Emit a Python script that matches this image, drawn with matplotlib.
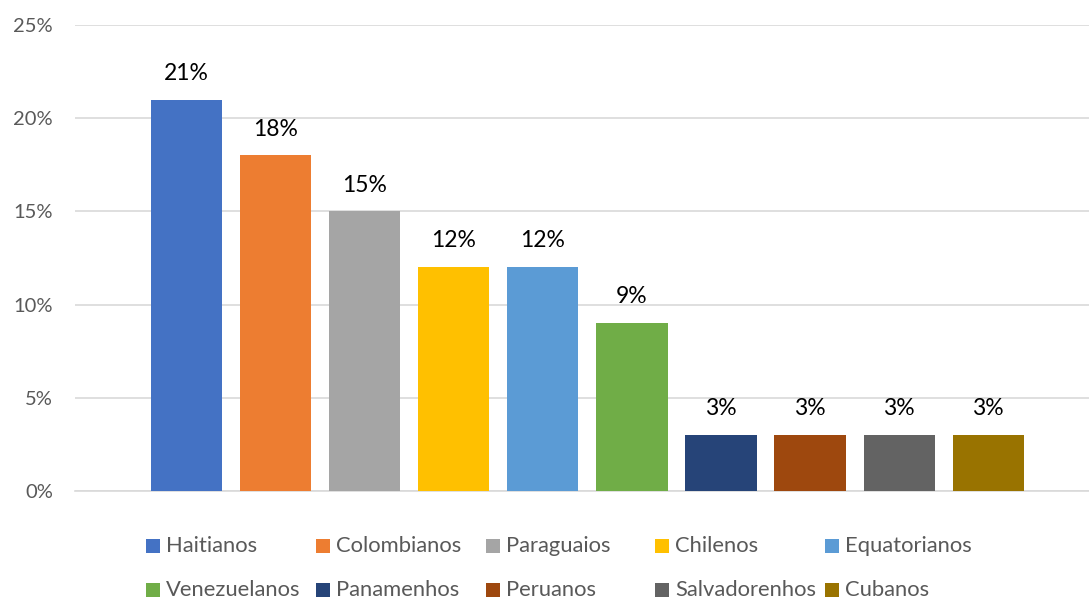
import matplotlib
matplotlib.use("Agg")
import matplotlib.pyplot as plt
from matplotlib.patches import Rectangle

categories = ["Haitianos", "Colombianos", "Paraguaios", "Chilenos", "Equatorianos",
              "Venezuelanos", "Panamenhos", "Peruanos", "Salvadorenhos", "Cubanos"]
values = [21, 18, 15, 12, 12, 9, 3, 3, 3, 3]
colors = ["#4472C4", "#ED7D31", "#A5A5A5", "#FFC000", "#5B9BD5",
          "#70AD47", "#264478", "#9E480E", "#636363", "#997300"]
yticks = [0, 5, 10, 15, 20, 25]

W, H = 1089, 599
fig = plt.figure(figsize=(W / 100, H / 100), dpi=100)
plt.rcParams['font.family'] = ['Lato', 'DejaVu Sans']
ax = fig.add_axes([75 / W, (H - 491) / H, 1 - 75 / W, (491 - 25) / H])

x = list(range(len(categories)))
bars = ax.bar(x, values, width=0.8, color=colors, zorder=3)
for xi, v in zip(x, values):
    ax.annotate(f"{v}%", (xi, v), xytext=(0, 19), textcoords="offset points",
                ha="center", va="center", fontsize=16.5, color="#000000")

ax.set_xlim(-1.25, 10.13)
ax.set_ylim(0, 25)
ax.set_yticks(yticks)
ax.set_yticklabels([f"{t}%" for t in yticks])
ax.set_xticks([])
ax.tick_params(axis="y", length=0, pad=16, labelsize=14.5, labelcolor="#595959")
ax.grid(axis="y", color="#D9D9D9", linewidth=1.2, zorder=0)
for s in ["top", "right", "left"]:
    ax.spines[s].set_visible(False)
ax.spines["bottom"].set_color("#D9D9D9")
ax.spines["bottom"].set_linewidth(1.2)

# legend: 2 rows x 5 columns, equal column widths
col_x0, col_dx = 146, 169.8
row_y = [546, 590]
sq = 14
for i, (name, c) in enumerate(zip(categories, colors)):
    r, col = divmod(i, 5)
    px = col_x0 + col * col_dx
    py = row_y[r]
    fig.patches.append(Rectangle((px / W, (H - py - sq / 2) / H), sq / W, sq / H,
                                 transform=fig.transFigure, facecolor=c, edgecolor="none"))
    fig.text((px + 20) / W, (H - py) / H, name, ha="left", va="center",
             fontsize=15.8, color="#595959")

fig.savefig("out.png", dpi=100)
